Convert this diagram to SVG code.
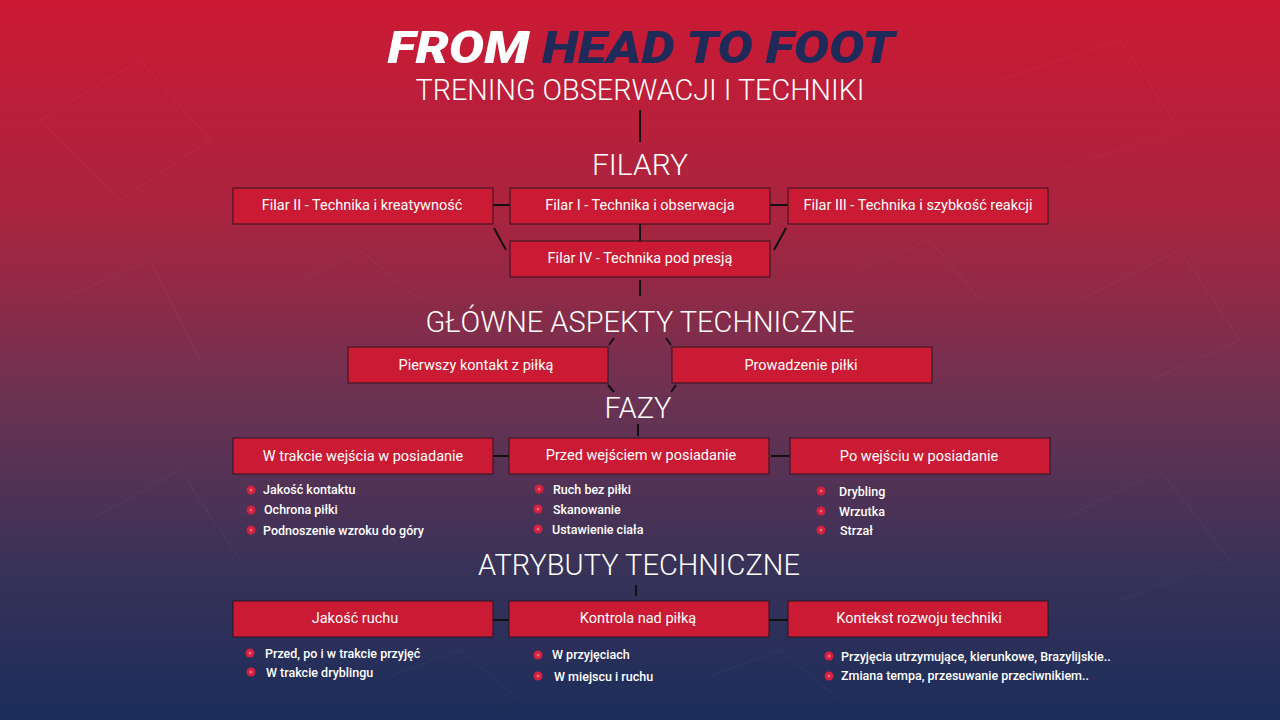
<svg xmlns="http://www.w3.org/2000/svg" width="1280" height="720" viewBox="0 0 1280 720">
<defs>
<linearGradient id="bg" x1="0" y1="0" x2="0" y2="1">
<stop offset="0" stop-color="#cc1934"/>
<stop offset="0.3" stop-color="#a9243f"/>
<stop offset="0.55" stop-color="#6c3252"/>
<stop offset="0.78" stop-color="#3a3258"/>
<stop offset="1" stop-color="#1b2d5b"/>
</linearGradient>
<style>
.box{fill:#cb1a33;stroke:#2a1420;stroke-width:1}
.bt{font-family:Roboto,"Liberation Sans",sans-serif;font-size:14.5px;fill:#fff;text-anchor:middle}
.h{font-family:Roboto,"Liberation Sans",sans-serif;font-weight:300;fill:#fff;text-anchor:middle}
.li{font-family:Roboto,"Liberation Sans",sans-serif;font-size:12.5px;font-weight:500;fill:#fff}
.c{stroke:#111;stroke-width:2;fill:none}
.bo{fill:#d42140}
.bi{fill:#e8687e}
.pat{stroke:#ffffff;stroke-opacity:0.035;stroke-width:1.2;fill:none}
</style>
</defs>
<rect width="1280" height="720" fill="url(#bg)"/>
<g class="pat">
<path d="M40 120 L140 60 L210 140 L120 200 Z"/>
<path d="M1000 80 L1120 40 L1180 130 L1060 170"/>
<path d="M60 300 L150 260 L200 360"/>
<path d="M1080 300 L1180 250 L1240 340 L1150 380"/>
<path d="M90 520 L180 470 L240 560"/>
<path d="M1060 520 L1160 470 L1230 560 L1120 600"/>
<path d="M300 280 L360 250 L420 300"/>
<path d="M860 270 L930 240 L980 300"/>
<path d="M380 680 L460 650 L520 700"/>
<path d="M700 680 L780 650 L840 700"/>
</g>
<g id="title">
<text x="641" y="63" font-family="Roboto,'Liberation Sans',sans-serif" font-weight="900" font-style="italic" font-size="45" textLength="507" lengthAdjust="spacingAndGlyphs" text-anchor="middle"><tspan fill="#ffffff">FROM </tspan><tspan fill="#1f2a58">HEAD TO FOOT</tspan></text>
<text x="640" y="100" class="h" font-size="30" textLength="449" lengthAdjust="spacingAndGlyphs">TRENING OBSERWACJI I TECHNIKI</text>
</g>
<g id="connectors">
<line class="c" x1="640" y1="110" x2="640" y2="142"/>
<line class="c" x1="493" y1="205" x2="510" y2="205"/>
<line class="c" x1="770" y1="205" x2="788" y2="205"/>
<line class="c" x1="640" y1="224" x2="640" y2="241"/>
<line class="c" x1="494" y1="228" x2="506" y2="250"/>
<line class="c" x1="786" y1="228" x2="774" y2="250"/>
<line class="c" x1="640" y1="280" x2="640" y2="296"/>
<line class="c" x1="614" y1="338" x2="609" y2="345"/>
<line class="c" x1="666" y1="338" x2="671" y2="345"/>
<line class="c" x1="608" y1="385" x2="614" y2="392"/>
<line class="c" x1="676" y1="385" x2="671" y2="392"/>
<line class="c" x1="638" y1="424" x2="638" y2="436"/>
<line class="c" x1="493" y1="456" x2="509" y2="456"/>
<line class="c" x1="771" y1="456" x2="790" y2="456"/>
<line class="c" x1="636" y1="585" x2="636" y2="596"/>
<line class="c" x1="493" y1="620" x2="509" y2="620"/>
<line class="c" x1="769" y1="620" x2="788" y2="620"/>
</g>
<text x="640" y="175" class="h" font-size="30">FILARY</text>
<g id="filar2"><rect class="box" x="233" y="188" width="260" height="36"/><text class="bt" x="362" y="210">Filar II - Technika i kreatywność</text></g>
<g id="filar1"><rect class="box" x="510" y="188" width="260" height="36"/><text class="bt" x="640" y="210">Filar I - Technika i obserwacja</text></g>
<g id="filar3"><rect class="box" x="788" y="188" width="260" height="36"/><text class="bt" x="918" y="210">Filar III - Technika i szybkość reakcji</text></g>
<g id="filar4"><rect class="box" x="510" y="241" width="260" height="36"/><text class="bt" x="640" y="263">Filar IV - Technika pod presją</text></g>
<text x="640" y="332" class="h" font-size="29">GŁÓWNE ASPEKTY TECHNICZNE</text>
<g id="pierwszy"><rect class="box" x="348" y="347" width="260" height="36"/><text class="bt" x="476" y="370">Pierwszy kontakt z piłką</text></g>
<g id="prowadzenie"><rect class="box" x="672" y="347" width="260" height="36"/><text class="bt" x="801" y="370">Prowadzenie piłki</text></g>
<text x="638" y="418" class="h" font-size="29">FAZY</text>
<g id="wtrakcie"><rect class="box" x="233" y="438" width="260" height="36"/><text class="bt" x="363" y="461">W trakcie wejścia w posiadanie</text></g>
<g id="przed"><rect class="box" x="509" y="438" width="260" height="36"/><text class="bt" x="641" y="460">Przed wejściem w posiadanie</text></g>
<g id="po"><rect class="box" x="790" y="438" width="260" height="36"/><text class="bt" x="919" y="461">Po wejściu w posiadanie</text></g>
<g id="list1">
<circle class="bo" cx="251" cy="490" r="4.5"/><circle class="bi" cx="251" cy="490" r="1.5"/><text class="li" x="263" y="494">Jakość kontaktu</text>
<circle class="bo" cx="251" cy="510" r="4.5"/><circle class="bi" cx="251" cy="510" r="1.5"/><text class="li" x="264" y="514">Ochrona piłki</text>
<circle class="bo" cx="251" cy="530" r="4.5"/><circle class="bi" cx="251" cy="530" r="1.5"/><text class="li" x="263" y="535">Podnoszenie wzroku do góry</text>
</g>
<g id="list2">
<circle class="bo" cx="539" cy="489" r="4.5"/><circle class="bi" cx="539" cy="489" r="1.5"/><text class="li" x="553" y="494">Ruch bez piłki</text>
<circle class="bo" cx="538" cy="509" r="4.5"/><circle class="bi" cx="538" cy="509" r="1.5"/><text class="li" x="553" y="514">Skanowanie</text>
<circle class="bo" cx="538" cy="529" r="4.5"/><circle class="bi" cx="538" cy="529" r="1.5"/><text class="li" x="552" y="534">Ustawienie ciała</text>
</g>
<g id="list3">
<circle class="bo" cx="821" cy="491" r="4.5"/><circle class="bi" cx="821" cy="491" r="1.5"/><text class="li" x="839" y="496">Drybling</text>
<circle class="bo" cx="821" cy="511" r="4.5"/><circle class="bi" cx="821" cy="511" r="1.5"/><text class="li" x="839" y="516">Wrzutka</text>
<circle class="bo" cx="821" cy="530" r="4.5"/><circle class="bi" cx="821" cy="530" r="1.5"/><text class="li" x="840" y="535">Strzał</text>
</g>
<text x="639" y="575" class="h" font-size="29">ATRYBUTY TECHNICZNE</text>
<g id="jakosc"><rect class="box" x="233" y="601" width="260" height="36"/><text class="bt" x="355" y="623">Jakość ruchu</text></g>
<g id="kontrola"><rect class="box" x="509" y="601" width="260" height="36"/><text class="bt" x="638" y="623">Kontrola nad piłką</text></g>
<g id="kontekst"><rect class="box" x="788" y="601" width="260" height="36"/><text class="bt" x="919" y="623">Kontekst rozwoju techniki</text></g>
<g id="list4">
<circle class="bo" cx="250" cy="653" r="4.5"/><circle class="bi" cx="250" cy="653" r="1.5"/><text class="li" x="265" y="658">Przed, po i w trakcie przyjęć</text>
<circle class="bo" cx="251" cy="672" r="4.5"/><circle class="bi" cx="251" cy="672" r="1.5"/><text class="li" x="266" y="677">W trakcie dryblingu</text>
</g>
<g id="list5">
<circle class="bo" cx="538" cy="655" r="4.5"/><circle class="bi" cx="538" cy="655" r="1.5"/><text class="li" x="552" y="659">W przyjęciach</text>
<circle class="bo" cx="538" cy="676" r="4.5"/><circle class="bi" cx="538" cy="676" r="1.5"/><text class="li" x="554" y="681">W miejscu i ruchu</text>
</g>
<g id="list6">
<circle class="bo" cx="829" cy="656" r="4.5"/><circle class="bi" cx="829" cy="656" r="1.5"/><text class="li" x="841" y="661">Przyjęcia utrzymujące, kierunkowe, Brazylijskie..</text>
<circle class="bo" cx="829" cy="676" r="4.5"/><circle class="bi" cx="829" cy="676" r="1.5"/><text class="li" x="841" y="680">Zmiana tempa, przesuwanie przeciwnikiem..</text>
</g>
</svg>
